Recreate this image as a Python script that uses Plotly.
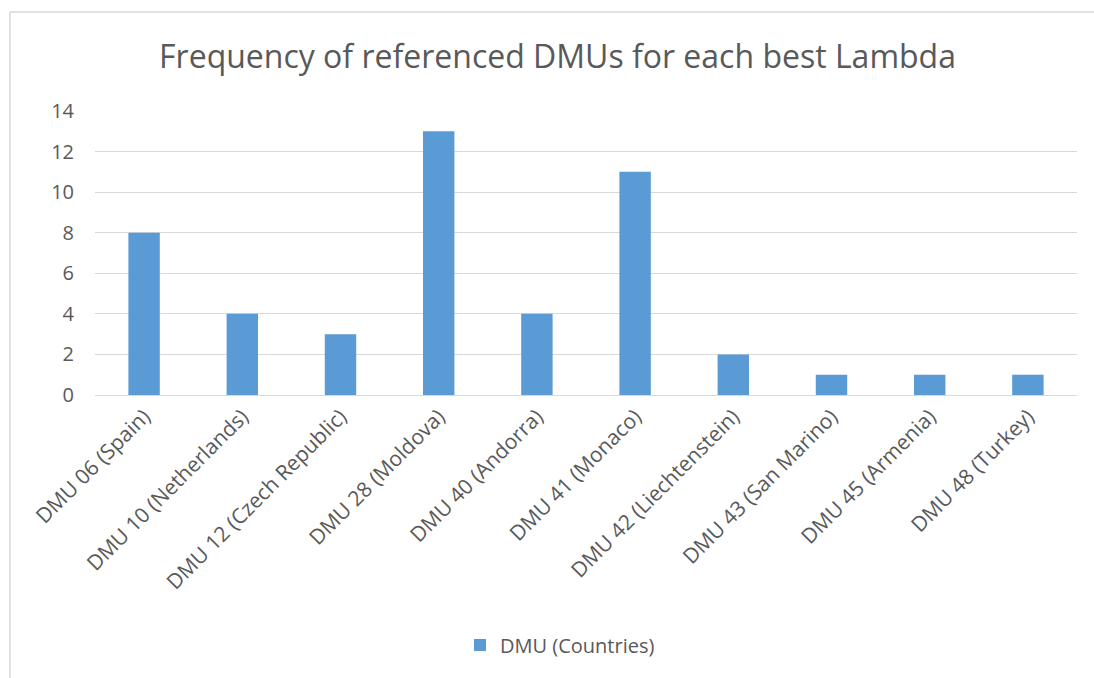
import plotly.graph_objects as go

categories = ["DMU 06 (Spain)", "DMU 10 (Netherlands)", "DMU 12 (Czech Republic)",
              "DMU 28 (Moldova)", "DMU 40 (Andorra)", "DMU 41 (Monaco)",
              "DMU 42 (Liechtenstein)", "DMU 43 (San Marino)", "DMU 45 (Armenia)",
              "DMU 48 (Turkey)"]
values = [8, 4, 3, 13, 4, 11, 2, 1, 1, 1]
series_name = "DMU (Countries)"

W, H = 1094, 678
L, R, T, B = 95, 17, 111, 283
pw, ph = W - L - R, H - T - B

font = "Open Sans"
txt = "#595959"

fig = go.Figure(go.Bar(x=categories, y=values, name=series_name,
                       marker=dict(color="#5B9BD5", line=dict(width=0)),
                       showlegend=True))

def px_x(p):
    return (p - L) / pw

def px_y(p):
    return (H - B - p) / ph

fig.update_layout(
    width=W, height=H,
    margin=dict(l=L, r=R, t=T, b=B, autoexpand=False),
    paper_bgcolor="white", plot_bgcolor="white",
    bargap=0.68,
    title=dict(text="Frequency of referenced DMUs for each best Lambda",
               x=557.5 / W, xanchor="center", xref="container", y=1 - 57 / H, yanchor="middle",
               yref="container",
               font=dict(family=font, size=32, color=txt)),
    font=dict(family=font, size=20, color=txt),
    xaxis=dict(tickangle=-45, showgrid=False, showline=True, linecolor="#D9D9D9",
               ticks="", tickfont=dict(size=21, color=txt)),
    yaxis=dict(range=[0, 14], dtick=2, showgrid=True, gridcolor="#D9D9D9",
               zeroline=False, showline=False, ticks="", ticklen=0,
               ticklabelstandoff=20,
               tickfont=dict(size=20, color=txt)),
    legend=dict(orientation="h", x=px_x(560), xanchor="center", y=px_y(645), yanchor="middle",
                yref="paper", font=dict(size=20, color=txt), itemwidth=30),
    shapes=[
        dict(type="line", xref="paper", yref="paper", x0=px_x(10), x1=px_x(1200),
             y0=px_y(12), y1=px_y(12), line=dict(color="#D9D9D9", width=1.5)),
        dict(type="line", xref="paper", yref="paper", x0=px_x(10), x1=px_x(10),
             y0=px_y(12), y1=px_y(700), line=dict(color="#D9D9D9", width=1.5)),
    ],
)

fig.write_html("out.html")
